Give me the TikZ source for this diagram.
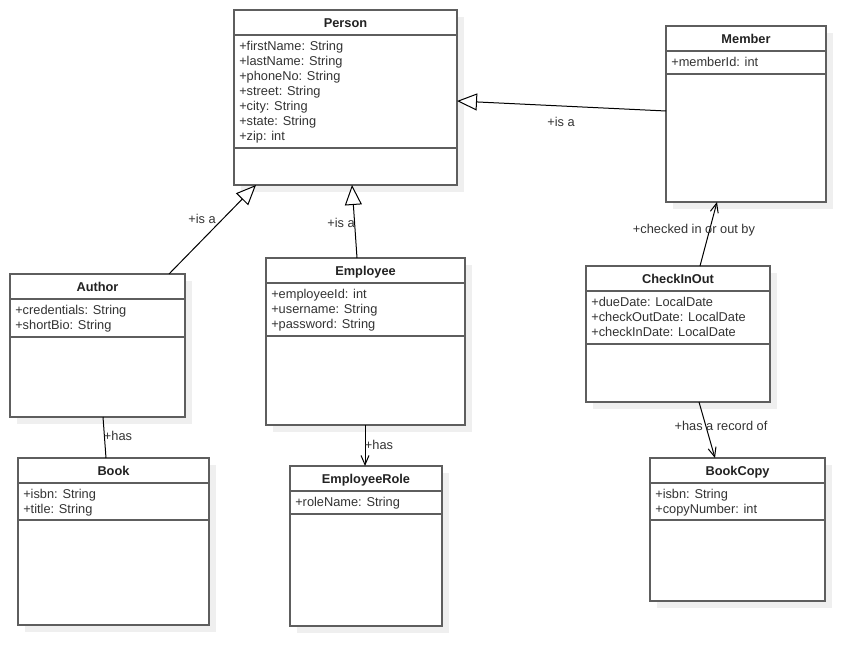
\documentclass[tikz,border=0pt]{standalone}
\usepackage{fontspec}
\setmainfont{Liberation Sans}
\usetikzlibrary{arrows.meta,calc}
\definecolor{boxline}{HTML}{5E5E5E}
\definecolor{shadowc}{HTML}{EFEFEF}
\definecolor{txtc}{HTML}{333333}
\definecolor{titlec}{HTML}{222222}
\tikzset{
  classbox/.style={rectangle, draw=boxline, line width=1pt, fill=white, inner sep=0pt, outer sep=0pt},
  titletext/.style={font=\fontsize{9.6}{11.25}\selectfont\bfseries, text=titlec, inner sep=0pt},
  attrtext/.style={font=\fontsize{9.6}{11.25}\selectfont, text=txtc, inner sep=0pt, align=left},
  lbl/.style={font=\fontsize{9.6}{11.25}\selectfont, text=txtc, inner sep=0pt},
  conn/.style={draw=black, line width=0.75pt},
  gen/.style={conn, -{Triangle[open, length=15pt, width=12.75pt, fill=white]}},
  assoc/.style={conn, -{Straight Barb[length=7pt, width=6pt]}},
}
\newcommand{\umlclass}[9]{%
  \fill[shadowc] (#2+7,#3+7) rectangle (#4+7,#5+7);
  \node[classbox, minimum width={(#4-#2)*0.75pt}, minimum height={(#5-#3)*0.75pt}, anchor=north west] (#1) at (#2,#3) {};
  \draw[boxline, line width=1pt] ($(#1.north west)+(0,#6-#3)$) -- ($(#1.north east)+(0,#6-#3)$)
    ($(#1.north west)+(0,#7-#3)$) -- ($(#1.north east)+(0,#7-#3)$);
  \node[titletext, anchor=base] (#1-title) at ({(#2+#4)/2},{(#3+#6)/2+4.8}) {#8};
  \node[attrtext, anchor=north west] (#1-attrs) at (#2+5,#6+4.2) {\rule{0pt}{8pt}#9};
}
\begin{document}
\begin{tikzpicture}[x=0.75pt, y=-0.75pt]
\useasboundingbox (0,0) rectangle (866,666);

\umlclass{person}{234}{10}{457}{185}{35}{148}{Person}{+firstName: String\\+lastName: String\\+phoneNo: String\\+street: String\\+city: String\\+state: String\\+zip: int}
\umlclass{member}{666}{26}{826}{202}{51}{74}{Member}{+memberId: int}
\umlclass{author}{10}{274}{185}{417}{299}{337}{Author}{+credentials: String\\+shortBio: String}
\umlclass{employee}{266}{258}{465}{425}{283}{336}{Employee}{+employeeId: int\\+username: String\\+password: String}
\umlclass{check}{586}{266}{770}{402}{291}{344}{CheckInOut}{+dueDate: LocalDate\\+checkOutDate: LocalDate\\+checkInDate: LocalDate}
\umlclass{book}{18}{458}{209}{625}{483}{520}{Book}{+isbn: String\\+title: String}
\umlclass{emprole}{290}{466}{442}{626}{491}{514}{EmployeeRole}{+roleName: String}
\umlclass{bookcopy}{650}{458}{825}{601}{483}{520}{BookCopy}{+isbn: String\\+copyNumber: int}

% generalisations
\draw[gen] ($(member.north west)+(0,85)$) -- ($(person.north east)+(0,91)$);
\draw[gen] ($(author.north west)+(159,0)$) -- ($(person.south west)+(22,0)$);
\draw[gen] ($(employee.north west)+(91,0)$) -- ($(person.south west)+(118,0)$);
% associations
\draw[assoc] ($(check.north west)+(114,0)$) -- ($(member.south west)+(51,0)$);
\draw[assoc] ($(check.south west)+(113,0)$) -- ($(bookcopy.north west)+(65,0)$);
\draw[conn] ($(author.south west)+(93,0)$) -- ($(book.north west)+(88,0)$);
\draw[assoc] ($(employee.south west)+(99,0)$) -- ($(emprole.north west)+(75,0)$);

% labels
\node[lbl] (l-member) at (561,122) {+is a};
\node[lbl] (l-author) at (202,219) {+is a};
\node[lbl] (l-employee) at (341,223) {+is a};
\node[lbl] (l-checked) at (694,230) {+checked in or out by};
\node[lbl] (l-record) at (721,426) {+has a record of};
\node[lbl] (l-book) at (118,436) {+has};
\node[lbl] (l-role) at (379,445) {+has};
\end{tikzpicture}
\end{document}
